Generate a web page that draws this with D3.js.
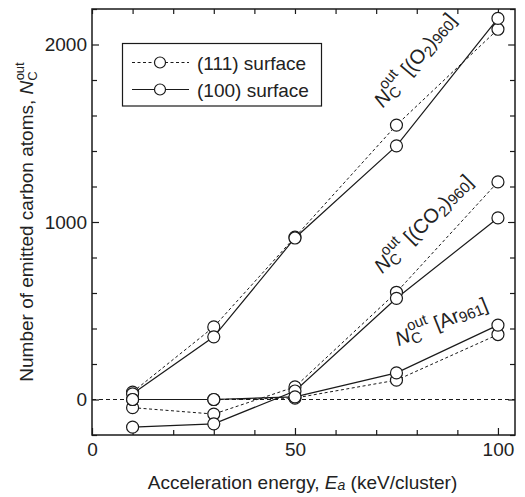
<!DOCTYPE html>
<html lang="en">
<head>
<meta charset="UTF-8" />
<title>Emitted carbon atoms vs acceleration energy</title>
<script src="https://d3js.org/d3.v7.min.js"></script>
<style>
body {
    margin: 0;
    padding: 0;
    background: #fff;
}
svg {
    display: block;
    font-family: "Liberation Sans", Arial, sans-serif;
}
</style>
</head>
<body>
<svg width="525" height="497"></svg>

<script>
// data
const energies = [10, 30, 50, 75, 100];
const o2_111 = [42, 409, 915, 1546, 2086];
const o2_100 = [32, 353, 910, 1429, 2147];
const co2_111 = [-46, -82, 71, 604, 1226];
const co2_100 = [-156, -137, 48, 570, 1023];
const ar_111 = [0, 0, 8, 109, 366];
const ar_100 = [0, 0, 15, 150, 419];

const xTicks = [0, 10, 20, 30, 40, 50, 60, 70, 80, 90, 100];
const xLabels = [0, 50, 100];
const yTicks = [-200, 0, 200, 400, 600, 800, 1000, 1200, 1400, 1600, 1800, 2000, 2200];
const yLabels = [0, 1000, 2000];

const series = [
    { name: "O2 (111)", values: o2_111, dashed: true },
    { name: "O2 (100)", values: o2_100, dashed: false },
    { name: "CO2 (111)", values: co2_111, dashed: true },
    { name: "CO2 (100)", values: co2_100, dashed: false },
    { name: "Ar (111)", values: ar_111, dashed: true },
    { name: "Ar (100)", values: ar_100, dashed: false },
];

const svg = d3.select("svg");
const plotL = 92, plotR = 515, plotT = 9, plotB = 435;
const ink = "#1a1a1a";

const x = d3.scaleLinear().domain([0, 104.2]).range([plotL, plotR]);
const y = d3.scaleLinear().domain([-200, 2200]).range([plotB, plotT]);

// zero reference line
svg.append("line")
    .attr("x1", x.range()[0]).attr("x2", x.range()[1])
    .attr("y1", y(0)).attr("y2", y(0))
    .attr("stroke", ink)
    .attr("stroke-width", 1)
    .attr("stroke-dasharray", "4,3");

// axes (ticks inward, labels only on bottom and left)
function styleAxis(g) {
    g.select(".domain").remove();
    g.selectAll(".tick line")
        .attr("stroke", ink)
        .attr("stroke-width", 1.2);
    g.selectAll(".tick text")
        .attr("fill", "#222")
        .style("font-size", "19px");
}

const bottomAxis = svg.append("g")
    .attr("transform", `translate(0,${plotB})`)
    .call(d3.axisBottom(x).tickValues(xTicks).tickSize(-6).tickSizeOuter(0).tickPadding(8)
        .tickFormat(d => xLabels.includes(d) ? d : ""));
styleAxis(bottomAxis);
bottomAxis.selectAll(".tick line").attr("y2", d => d % 50 === 0 ? -7 : -5);

const topAxis = svg.append("g")
    .attr("transform", `translate(0,${plotT})`)
    .call(d3.axisTop(x).tickValues(xTicks).tickSize(-5).tickSizeOuter(0).tickFormat(""));
styleAxis(topAxis);

const leftAxis = svg.append("g")
    .attr("transform", `translate(${plotL},0)`)
    .call(d3.axisLeft(y).tickValues(yTicks).tickSize(-6).tickSizeOuter(0).tickPadding(5)
        .tickFormat(d => yLabels.includes(d) ? d : ""));
styleAxis(leftAxis);
leftAxis.selectAll(".tick line").attr("x2", d => d % 1000 === 0 ? 7 : 5);

const rightAxis = svg.append("g")
    .attr("transform", `translate(${plotR},0)`)
    .call(d3.axisRight(y).tickValues(yTicks).tickSize(-5).tickSizeOuter(0).tickFormat(""));
styleAxis(rightAxis);
rightAxis.selectAll(".tick line").attr("x2", d => d % 1000 === 0 ? -7 : -5);

// frame
svg.append("rect")
    .attr("x", plotL).attr("y", plotT)
    .attr("width", plotR - plotL).attr("height", plotB - plotT)
    .attr("fill", "none")
    .attr("stroke", ink)
    .attr("stroke-width", 1.5);

// series lines and markers
const line = d3.line()
    .x((d, i) => x(energies[i]))
    .y(d => y(d));

series.forEach(s => {
    svg.append("path")
        .datum(s.values)
        .attr("d", line)
        .attr("fill", "none")
        .attr("stroke", ink)
        .attr("stroke-width", s.dashed ? 1 : 1.2)
        .attr("stroke-dasharray", s.dashed ? "3,2.5" : null);
});

series.forEach(s => {
    svg.selectAll(null)
        .data(s.values)
        .enter()
        .append("circle")
        .attr("cx", (d, i) => x(energies[i]))
        .attr("cy", d => y(d))
        .attr("r", 6)
        .attr("fill", "#fff")
        .attr("stroke", ink)
        .attr("stroke-width", 1.2);
});

// annotations: N_C^out [...]
function annotate(ax, ay, angle, parts) {
    const t = svg.append("text")
        .attr("transform", `translate(${x(ax)},${y(ay)}) rotate(${angle})`)
        .attr("fill", "#222")
        .style("font-size", "20px");
    t.append("tspan").style("font-style", "italic").text("N");
    t.append("tspan").style("font-size", "15px").attr("dy", 4).text("C");
    t.append("tspan").style("font-size", "15px").attr("dx", -10).attr("dy", -14).text("out");
    t.append("tspan").attr("dy", 10).text(" ");
    parts.forEach(p => {
        t.append("tspan")
            .style("font-size", p.sub ? "15px" : "20px")
            .attr("dy", p.dy || 0)
            .text(p.text);
    });
}

annotate(71.7, 1640, -50, [
    { text: "[(O" },
    { text: "2", sub: true, dy: 4 },
    { text: ")", dy: -4 },
    { text: "960", sub: true, dy: 2 },
    { text: "]", dy: -2 },
]);
annotate(71.5, 705, -45, [
    { text: "[(CO" },
    { text: "2", sub: true, dy: 4 },
    { text: ")", dy: -4 },
    { text: "960", sub: true, dy: 2 },
    { text: "]", dy: -2 },
]);
annotate(75.5, 300, -22, [
    { text: "[Ar" },
    { text: "961", sub: true, dy: 2 },
    { text: "]", dy: -2 },
]);

// legend
const legend = svg.append("g");
legend.append("rect")
    .attr("x", 122.5).attr("y", 43.5)
    .attr("width", 199).attr("height", 62.5)
    .attr("fill", "#fff")
    .attr("stroke", ink)
    .attr("stroke-width", 1.2);

const legendItems = [
    { label: "(111) surface", dashed: true },
    { label: "(100) surface", dashed: false },
];
legendItems.forEach((item, i) => {
    const cy = 62.5 + i * 27;
    legend.append("line")
        .attr("x1", 132).attr("x2", 189)
        .attr("y1", cy).attr("y2", cy)
        .attr("stroke", ink)
        .attr("stroke-width", item.dashed ? 1 : 1.2)
        .attr("stroke-dasharray", item.dashed ? "3,2.5" : null);
    legend.append("circle")
        .attr("cx", 160).attr("cy", cy).attr("r", 5.5)
        .attr("fill", "#fff")
        .attr("stroke", ink)
        .attr("stroke-width", 1.2);
    legend.append("text")
        .attr("x", 197).attr("y", cy + 7)
        .attr("fill", "#222")
        .style("font-size", "19px")
        .text(item.label);
});

// axis titles
const xTitle = svg.append("text")
    .attr("x", (plotL + plotR) / 2 - 1)
    .attr("y", 489)
    .attr("text-anchor", "middle")
    .attr("fill", "#222")
    .style("font-size", "19px");
xTitle.append("tspan").text("Acceleration energy, ");
xTitle.append("tspan").style("font-style", "italic").text("E");
xTitle.append("tspan").style("font-style", "italic").style("font-size", "14px").attr("dy", 1).text("a");
xTitle.append("tspan").attr("dy", -1).text(" (keV/cluster)");

const yTitle = svg.append("text")
    .attr("transform", `translate(33,${(plotT + plotB) / 2}) rotate(-90)`)
    .attr("text-anchor", "middle")
    .attr("fill", "#222")
    .style("font-size", "19px");
yTitle.append("tspan").text("Number of emitted carbon atoms, ");
yTitle.append("tspan").style("font-style", "italic").text("N");
yTitle.append("tspan").style("font-size", "13px").attr("dy", 4).text("C");
yTitle.append("tspan").style("font-size", "13px").attr("dx", -9).attr("dy", -13).text("out");
</script>
</body>
</html>
